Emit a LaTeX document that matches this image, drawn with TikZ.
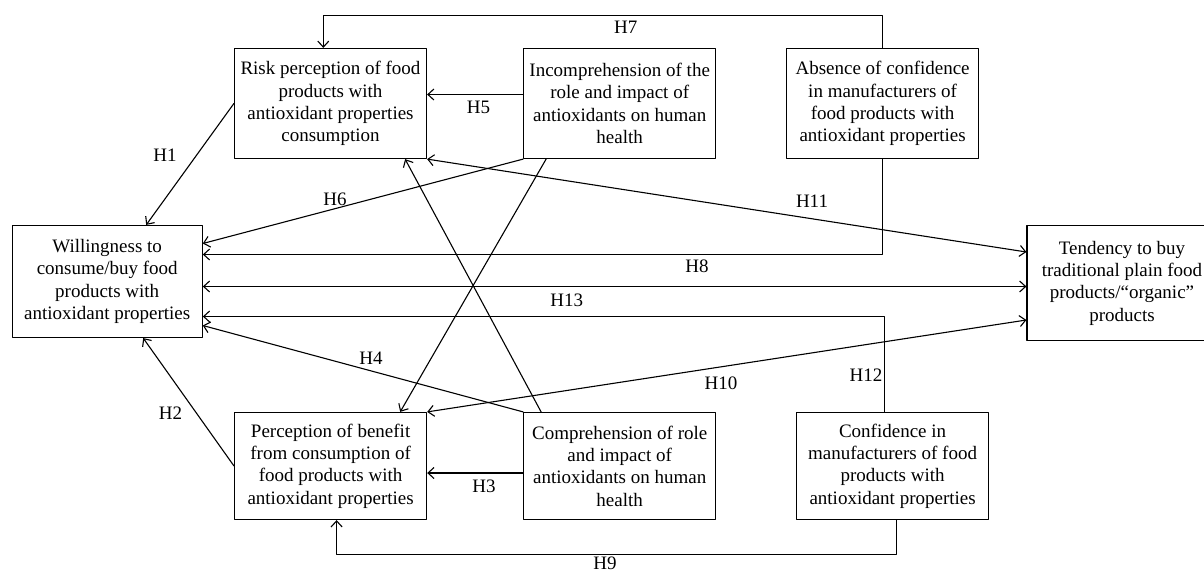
\documentclass[tikz,border=0pt]{standalone}
\usepackage{fontspec}
\setmainfont{Liberation Serif}
\usetikzlibrary{arrows.meta}

\begin{document}
\begin{tikzpicture}[line cap=round,line join=round,>={Straight Barb[length=6pt,width=11pt]},x=1pt,y=-1pt,
  box/.style={draw,line width=1.2pt,minimum width=192pt,minimum height=110pt,align=center,inner sep=0pt,font=\fontsize{19}{22.3}\selectfont},
  lab/.style={inner sep=1pt,font=\fontsize{19}{22.3}\selectfont},
  link/.style={line width=1.1pt}]
\useasboundingbox (0,0) rectangle (1204,573);
% boxes
\node[box] (risk) at (330.5,103.5) {Risk perception of food\\products with\\antioxidant properties\\consumption};
\node[box] (incomp) at (619.7,103.5) {Incomprehension of the\\role and impact of\\antioxidants on human\\health};
\node[box] (absence) at (882.6,103.5) {Absence of confidence\\in manufacturers of\\food products with\\antioxidant properties};
\node[box,minimum width=190pt,minimum height=112pt] (will) at (107.2,281.5) {Willingness to\\consume/buy food\\products with\\antioxidant properties};
\node[box,minimum width=190pt,minimum height=115pt] (tend) at (1122,283) {Tendency to buy\\traditional plain food\\products/“organic”\\products};
\node[box,minimum height=107pt] (perc) at (330.6,466) {Perception of benefit\\from consumption of\\food products with\\antioxidant properties};
\node[box,minimum height=107pt] (comp) at (619.7,466) {Comprehension of role\\and impact of\\antioxidants on human\\health};
\node[box,minimum height=107pt] (conf) at (892.6,466) {Confidence in\\manufacturers of food\\products with\\antioxidant properties};
% connectors
\coordinate (h7) at (323.3,15.7);
\draw[link,->] (absence.north) |- (h7) -- (h7 |- risk.north);
\draw[link,->] ([yshift=9pt]incomp.west) -- ([yshift=9pt]risk.east);
\draw[link,->] (risk.west) -- ([xshift=39pt]will.north);
\draw[link,->] (incomp.south west) -- ([yshift=38pt]will.east);
\draw[link,->] ([xshift=23pt]incomp.south west) -- ([xshift=-27pt]perc.north east);
\draw[link,->] ([xshift=18pt]comp.north west) -- ([xshift=-22pt]risk.south east);
\draw[link,<->] (risk.south east) -- ([yshift=31pt]tend.west);
\draw[link,->] (absence.south) |- ([yshift=27pt]will.east);
\draw[link,<->] ([yshift=-5pt]will.east) -- ([yshift=-5pt]will.east -| tend.west);
\draw[link,->] ([xshift=-8pt]conf.north) |- ([yshift=-35pt]will.east);
\draw[link,->] (comp.north west) -- ([yshift=-44pt]will.east);
\draw[link,<->] (perc.north east) -- ([yshift=-37pt]tend.west);
\draw[link,->] (perc.west) -- ([xshift=36pt]will.south);
\draw[link,->] ([yshift=-7pt]comp.west) -- ([yshift=-7pt]perc.east);
\draw[link,->] ([xshift=4pt]conf.south) -- ++(0,34) -| ([xshift=6pt]perc.south);
% labels
\node[lab] (h1) at (165,155) {H1};
\node[lab] (h2) at (170.5,413.3) {H2};
\node[lab] (h3) at (484,486.7) {H3};
\node[lab] (h4) at (371,358.3) {H4};
\node[lab] (h5) at (478.4,107.3) {H5};
\node[lab] (h6) at (335,199) {H6};
\node[lab] (h7l) at (625.8,27.3) {H7};
\node[lab] (h8) at (697,266.7) {H8};
\node[lab] (h9) at (605,563) {H9};
\node[lab] (h10) at (721,383) {H10};
\node[lab] (h11) at (812,201) {H11};
\node[lab] (h12) at (866,375.7) {H12};
\node[lab] (h13) at (566.7,300) {H13};
\end{tikzpicture}
\end{document}
